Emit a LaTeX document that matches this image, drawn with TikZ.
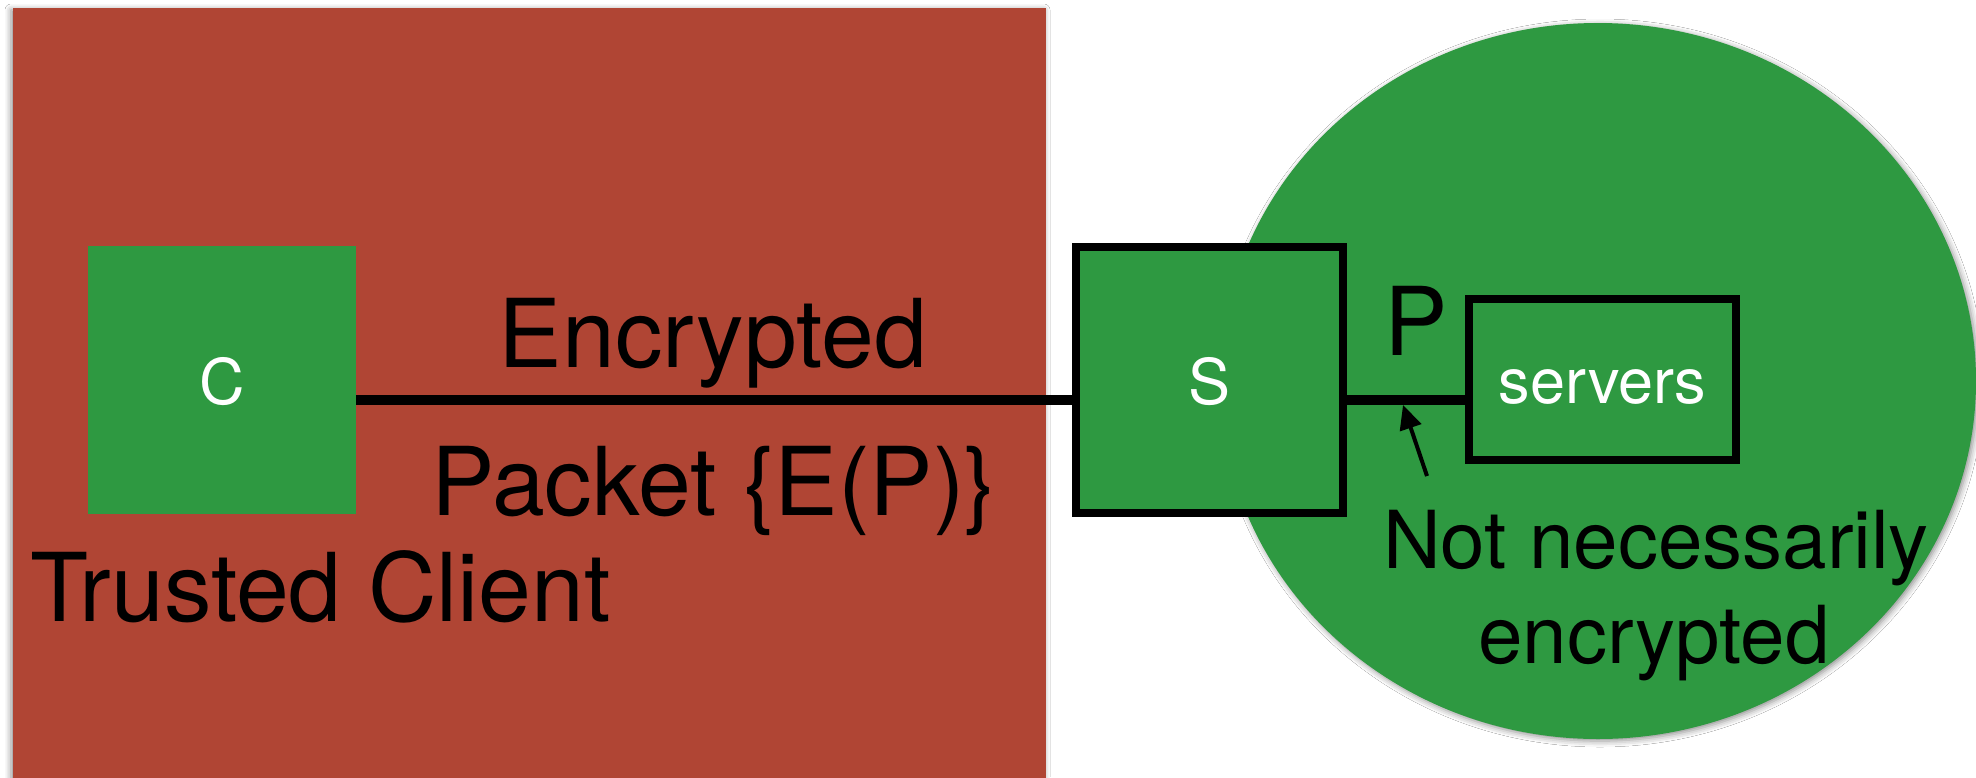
\documentclass[tikz,border=0pt]{standalone}
\usepackage{fontspec}
\setmainfont{TeX Gyre Heros}
\usetikzlibrary{arrows.meta,shadows.blur,shapes.geometric}
\definecolor{wallred}{RGB}{176,69,52}
\definecolor{zonegreen}{RGB}{46,153,65}
\tikzset{
  bigfont/.style={font=\fontsize{95}{114}\selectfont},
  midfont/.style={font=\fontsize{80}{95}\selectfont},
  boxfont/.style={font=\fontsize{63}{76}\selectfont},
  hostbox/.style={rectangle, fill=zonegreen, text=white, boxfont, inner sep=0pt,
      text height=48pt, text depth=0pt},
  ringbox/.style={hostbox, draw=black, line width=8pt},
  lbltext/.style={anchor=base, inner sep=0pt, text=black},
  wire/.style={line width=10pt},
  softshadow/.style={blur shadow={shadow xshift=#1, shadow yshift=-2pt,
      shadow blur radius=6pt, shadow opacity=45}},
}
\begin{document}
\begin{tikzpicture}[x=1pt,y=-1pt]
\useasboundingbox (0,0) rectangle (1976,777);
\fill[white] (0,0) rectangle (1976,777);

% trusted side
\path[fill=wallred, softshadow=-2pt] (13,8) rectangle (1046,800);

% server zone
\node[ellipse, minimum width=756pt, minimum height=716pt, inner sep=0pt,
      fill=zonegreen, softshadow=2pt] (zone) at (1598,381) {};

% hosts
\node[hostbox, minimum width=268pt, minimum height=268pt] (C) at (222,380) {C};
\node[ringbox, minimum width=267pt, minimum height=266pt] (S) at (1209.5,380) {S};
\node[ringbox, minimum width=267pt, minimum height=161pt] (srv) at (1602.5,379.5) {servers};

% links
\coordinate (wireY) at (0,400);
\draw[wire] (C.east |- wireY) -- (S.west |- wireY);
\draw[wire] (S.east |- wireY) -- (srv.west |- wireY);

% labels
\node[lbltext, bigfont] (enc) at (713,367) {Encrypted};
\node[lbltext, bigfont] (pkt) at (714,515) {Packet \{E(P)\}};
\node[lbltext, bigfont, anchor=base west] (tc) at (30,621) {Trusted Client};
\node[lbltext, bigfont] (plain) at (1416,355) {P};
\node[lbltext, midfont] (nn1) at (1656,568) {Not necessarily};
\node[lbltext, midfont] (nn2) at (1654,663) {encrypted};

% pointer to the inner link
\coordinate (ptrtail) at (1427,476);
\coordinate (ptrtip) at (1403,405);
\draw[black, line width=4pt, -{Triangle[length=24pt,width=22pt,fill=black]}]
  (ptrtail) -- (ptrtip);
\end{tikzpicture}
\end{document}
